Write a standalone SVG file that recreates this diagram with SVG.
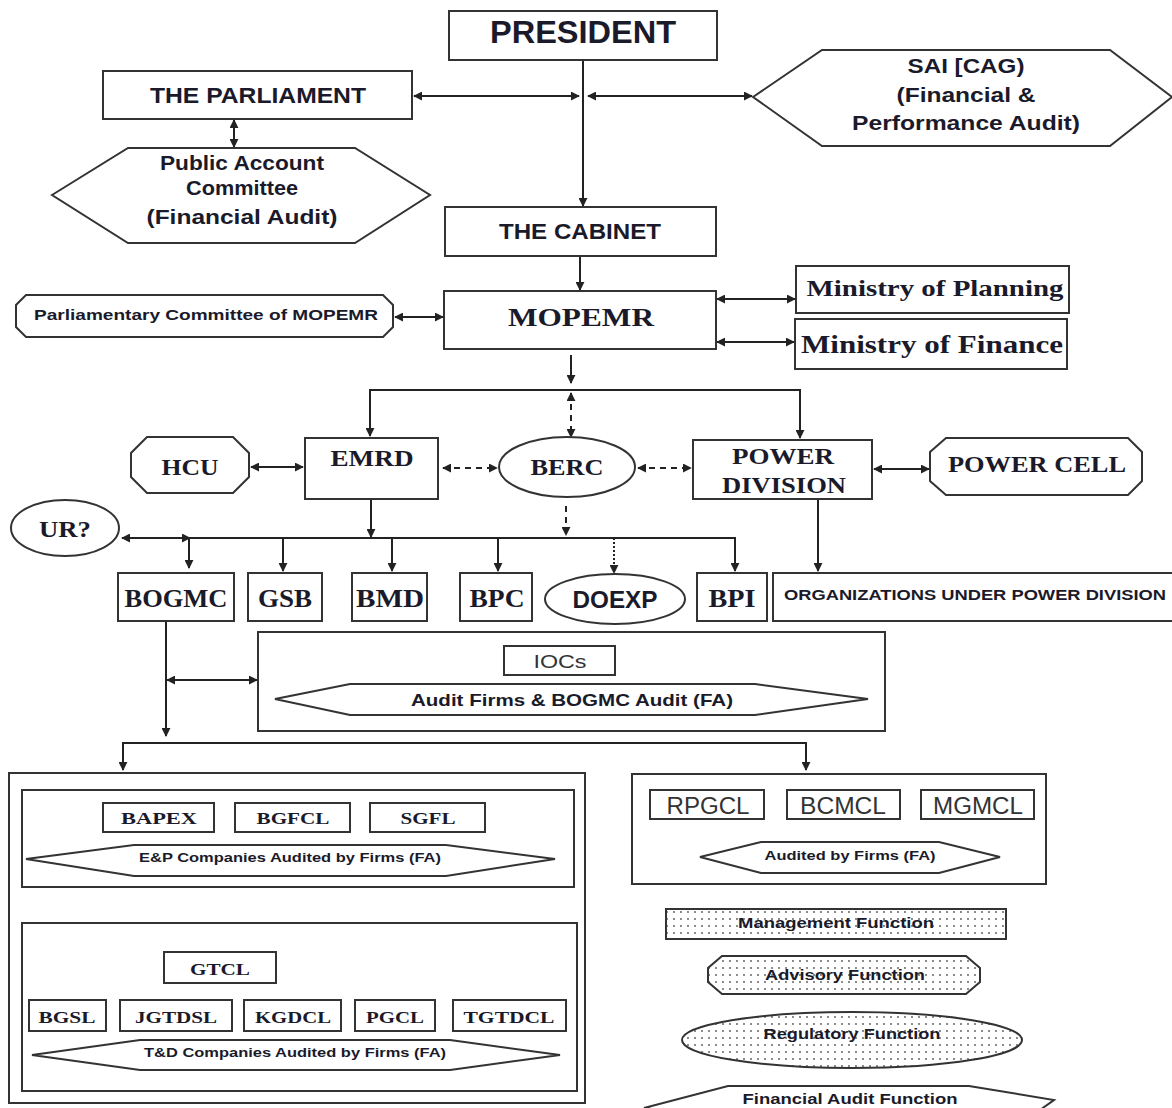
<svg xmlns="http://www.w3.org/2000/svg" width="1172" height="1108" viewBox="0 0 1172 1108">
<defs>
<marker id="ah" viewBox="0 0 10 10" refX="9" refY="5" markerWidth="9" markerHeight="9" markerUnits="userSpaceOnUse" orient="auto-start-reverse">
<path d="M0,0 L10,5 L0,10 z" fill="#222"/>
</marker>
<pattern id="dots" width="7" height="7" patternUnits="userSpaceOnUse">
<rect width="7" height="7" fill="#fff"/>
<circle cx="2" cy="2" r="0.9" fill="#555"/>
</pattern>
<style>
.b{fill:#fff;stroke:#333;stroke-width:2}
.c{fill:none;stroke:#222;stroke-width:2}
.d{stroke-dasharray:6,5}
.dt{stroke-dasharray:2,2}
.s{font-family:"Liberation Sans",Arial,sans-serif;font-weight:bold;fill:#1a1a2a;text-anchor:middle}
.sr{font-family:"Liberation Sans",Arial,sans-serif;fill:#333;text-anchor:middle}
.f{font-family:"Liberation Serif","Times New Roman",serif;font-weight:bold;fill:#1a1a2a;text-anchor:middle}
.p{fill:url(#dots);stroke:#333;stroke-width:2}
</style>
</defs>
<rect width="1172" height="1108" fill="#fff"/>

<g id="connectors">
<line class="c" x1="583" y1="60" x2="583" y2="206" marker-end="url(#ah)"/>
<line class="c" x1="414" y1="96" x2="579" y2="96" marker-start="url(#ah)" marker-end="url(#ah)"/>
<line class="c" x1="588" y1="96" x2="752" y2="96" marker-start="url(#ah)" marker-end="url(#ah)"/>
<line class="c" x1="234" y1="120" x2="234" y2="147" marker-start="url(#ah)" marker-end="url(#ah)"/>
<line class="c" x1="580" y1="256" x2="580" y2="290" marker-end="url(#ah)"/>
<line class="c" x1="395" y1="317" x2="443" y2="317" marker-start="url(#ah)" marker-end="url(#ah)"/>
<line class="c" x1="717" y1="299" x2="795" y2="299" marker-start="url(#ah)" marker-end="url(#ah)"/>
<line class="c" x1="717" y1="342" x2="794" y2="342" marker-start="url(#ah)" marker-end="url(#ah)"/>
<line class="c" x1="571" y1="355" x2="571" y2="383" marker-end="url(#ah)"/>
<line class="c" x1="369" y1="390" x2="801" y2="390"/>
<line class="c" x1="370" y1="390" x2="370" y2="436" marker-end="url(#ah)"/>
<line class="c" x1="800" y1="390" x2="800" y2="438" marker-end="url(#ah)"/>
<line class="c d" x1="571" y1="393" x2="571" y2="437" marker-start="url(#ah)" marker-end="url(#ah)"/>
<line class="c" x1="251" y1="467" x2="303" y2="467" marker-start="url(#ah)" marker-end="url(#ah)"/>
<line class="c d" x1="443" y1="468" x2="497" y2="468" marker-start="url(#ah)" marker-end="url(#ah)"/>
<line class="c d" x1="638" y1="468" x2="691" y2="468" marker-start="url(#ah)" marker-end="url(#ah)"/>
<line class="c" x1="874" y1="469" x2="929" y2="469" marker-start="url(#ah)" marker-end="url(#ah)"/>
<line class="c" x1="371" y1="499" x2="371" y2="537" marker-end="url(#ah)"/>
<line class="c d" x1="566" y1="506" x2="566" y2="535" marker-end="url(#ah)"/>
<line class="c" x1="189" y1="538" x2="736" y2="538"/>
<line class="c" x1="122" y1="538" x2="190" y2="538" marker-start="url(#ah)" marker-end="url(#ah)"/>
<line class="c" x1="189" y1="538" x2="189" y2="568" marker-end="url(#ah)"/>
<line class="c" x1="283" y1="538" x2="283" y2="571" marker-end="url(#ah)" stroke="#666"/>
<line class="c" x1="392" y1="538" x2="392" y2="571" marker-end="url(#ah)"/>
<line class="c" x1="498" y1="538" x2="498" y2="571" marker-end="url(#ah)" stroke="#666"/>
<line class="c dt" x1="614" y1="538" x2="614" y2="573" marker-end="url(#ah)"/>
<line class="c" x1="735" y1="538" x2="735" y2="571" marker-end="url(#ah)"/>
<line class="c" x1="818" y1="499" x2="818" y2="571" marker-end="url(#ah)"/>
<line class="c" x1="166" y1="621" x2="166" y2="736" marker-end="url(#ah)"/>
<line class="c" x1="167" y1="680" x2="257" y2="680" marker-start="url(#ah)" marker-end="url(#ah)"/>
<line class="c" x1="122" y1="743" x2="807" y2="743"/>
<line class="c" x1="123" y1="743" x2="123" y2="770" marker-end="url(#ah)"/>
<line class="c" x1="806" y1="743" x2="806" y2="770" marker-end="url(#ah)"/>
</g>

<g id="president"><rect class="b" x="449" y="11" width="268" height="49"/><text class="s" x="583" y="43" font-size="31" textLength="186" lengthAdjust="spacingAndGlyphs">PRESIDENT</text></g>
<g id="parliament"><rect class="b" x="103" y="71" width="309" height="48"/><text class="s" x="258" y="103" font-size="22" textLength="216" lengthAdjust="spacingAndGlyphs">THE PARLIAMENT</text></g>
<g id="sai"><polygon class="b" points="753,97 822,50 1110,50 1172,97 1110,146 822,146"/>
<text class="s" x="966" y="73" font-size="20" textLength="117" lengthAdjust="spacingAndGlyphs">SAI [CAG)</text>
<text class="s" x="966" y="102" font-size="20" textLength="139" lengthAdjust="spacingAndGlyphs">(Financial &amp;</text>
<text class="s" x="966" y="130" font-size="20" textLength="228" lengthAdjust="spacingAndGlyphs">Performance Audit)</text></g>
<g id="pac"><polygon class="b" points="52,195 128,148 355,148 430,195 355,243 128,243"/>
<text class="s" x="242" y="170" font-size="20" textLength="164" lengthAdjust="spacingAndGlyphs">Public Account</text>
<text class="s" x="242" y="195" font-size="20" textLength="112" lengthAdjust="spacingAndGlyphs">Committee</text>
<text class="s" x="242" y="224" font-size="20" textLength="191" lengthAdjust="spacingAndGlyphs">(Financial Audit)</text></g>
<g id="cabinet"><rect class="b" x="445" y="207" width="271" height="49"/><text class="s" x="580" y="239" font-size="22" textLength="162" lengthAdjust="spacingAndGlyphs">THE CABINET</text></g>
<g id="mopemr"><rect class="b" x="444" y="291" width="272" height="58"/><text class="f" x="581" y="326" font-size="26" textLength="146" lengthAdjust="spacingAndGlyphs">MOPEMR</text></g>
<g id="pcm"><polygon class="b" points="26,295 383,295 393,305 393,327 383,337 26,337 16,327 16,305"/><text class="s" x="206" y="320" font-size="15" textLength="344" lengthAdjust="spacingAndGlyphs">Parliamentary Committee of MOPEMR</text></g>
<g id="planning"><rect class="b" x="796" y="266" width="273" height="47"/><text class="f" x="935" y="296" font-size="24" textLength="257" lengthAdjust="spacingAndGlyphs">Ministry of Planning</text></g>
<g id="finance"><rect class="b" x="795" y="319" width="272" height="50"/><text class="f" x="932" y="353" font-size="25" textLength="262" lengthAdjust="spacingAndGlyphs">Ministry of Finance</text></g>
<g id="hcu"><polygon class="b" points="147,437 233,437 249,453 249,477 233,493 147,493 131,477 131,453"/><text class="f" x="190" y="475" font-size="24" textLength="57" lengthAdjust="spacingAndGlyphs">HCU</text></g>
<g id="emrd"><rect class="b" x="305" y="438" width="133" height="61"/><text class="f" x="372" y="466" font-size="24" textLength="83" lengthAdjust="spacingAndGlyphs">EMRD</text></g>
<g id="berc"><ellipse class="b" cx="567" cy="467" rx="68" ry="30"/><text class="f" x="567" y="475" font-size="24" textLength="73" lengthAdjust="spacingAndGlyphs">BERC</text></g>
<g id="power"><rect class="b" x="693" y="440" width="179" height="59"/><text class="f" x="783" y="464" font-size="24" textLength="102" lengthAdjust="spacingAndGlyphs">POWER</text><text class="f" x="784" y="493" font-size="24" textLength="124" lengthAdjust="spacingAndGlyphs">DIVISION</text></g>
<g id="powercell"><polygon class="b" points="946,438 1128,438 1142,452 1142,481 1128,495 946,495 930,481 930,452"/><text class="f" x="1037" y="472" font-size="24" textLength="178" lengthAdjust="spacingAndGlyphs">POWER CELL</text></g>
<g id="ur"><ellipse class="b" cx="65" cy="528" rx="54" ry="28"/><text class="f" x="65" y="537" font-size="24" textLength="52" lengthAdjust="spacingAndGlyphs">UR?</text></g>
<g id="bogmc"><rect class="b" x="118" y="573" width="116" height="48"/><text class="f" x="176" y="607" font-size="25" textLength="103" lengthAdjust="spacingAndGlyphs">BOGMC</text></g>
<g id="gsb"><rect class="b" x="248" y="573" width="74" height="48"/><text class="f" x="285" y="607" font-size="25" textLength="54" lengthAdjust="spacingAndGlyphs">GSB</text></g>
<g id="bmd"><rect class="b" x="352" y="573" width="75" height="48"/><text class="f" x="390" y="607" font-size="25" textLength="68" lengthAdjust="spacingAndGlyphs">BMD</text></g>
<g id="bpc"><rect class="b" x="460" y="573" width="72" height="48"/><text class="f" x="497" y="607" font-size="25" textLength="55" lengthAdjust="spacingAndGlyphs">BPC</text></g>
<g id="doexp"><ellipse class="b" cx="615" cy="599" rx="70" ry="25"/><text class="s" x="615" y="608" font-size="23" textLength="85" lengthAdjust="spacingAndGlyphs">DOEXP</text></g>
<g id="bpi"><rect class="b" x="697" y="573" width="70" height="48"/><text class="f" x="732" y="607" font-size="25" textLength="47" lengthAdjust="spacingAndGlyphs">BPI</text></g>
<g id="orgs"><rect class="b" x="773" y="573" width="405" height="48"/><text class="s" x="975" y="600" font-size="14" textLength="382" lengthAdjust="spacingAndGlyphs">ORGANIZATIONS UNDER POWER DIVISION</text></g>

<g id="iocs-group"><rect class="b" x="258" y="632" width="627" height="99"/>
<rect class="b" x="504" y="646" width="111" height="29"/><text class="sr" x="560" y="668" font-size="19" textLength="53" lengthAdjust="spacingAndGlyphs">IOCs</text>
<polygon class="b" points="275,699 350,684 755,684 868,699 755,715 350,715"/><text class="s" x="572" y="706" font-size="17" textLength="322" lengthAdjust="spacingAndGlyphs">Audit Firms &amp; BOGMC Audit (FA)</text></g>

<g id="gas-group"><rect class="b" x="9" y="773" width="576" height="330"/>
<rect class="b" x="22" y="790" width="552" height="97"/>
<rect class="b" x="103" y="803" width="111" height="29"/><text class="f" x="159" y="824" font-size="17" textLength="76" lengthAdjust="spacingAndGlyphs">BAPEX</text>
<rect class="b" x="235" y="803" width="115" height="29"/><text class="f" x="293" y="824" font-size="17" textLength="73" lengthAdjust="spacingAndGlyphs">BGFCL</text>
<rect class="b" x="370" y="803" width="115" height="29"/><text class="f" x="428" y="824" font-size="17" textLength="55" lengthAdjust="spacingAndGlyphs">SGFL</text>
<polygon class="b" points="26,859 134,845 446,845 555,859 446,876 134,876"/><text class="s" x="290" y="862" font-size="13" textLength="302" lengthAdjust="spacingAndGlyphs">E&amp;P Companies Audited by Firms (FA)</text>
<rect class="b" x="22" y="923" width="555" height="168"/>
<rect class="b" x="164" y="952" width="112" height="31"/><text class="f" x="220" y="975" font-size="17" textLength="60" lengthAdjust="spacingAndGlyphs">GTCL</text>
<rect class="b" x="29" y="1000" width="77" height="31"/><text class="f" x="67" y="1023" font-size="17" textLength="57" lengthAdjust="spacingAndGlyphs">BGSL</text>
<rect class="b" x="120" y="1000" width="112" height="31"/><text class="f" x="176" y="1023" font-size="17" textLength="82" lengthAdjust="spacingAndGlyphs">JGTDSL</text>
<rect class="b" x="244" y="1000" width="97" height="31"/><text class="f" x="293" y="1023" font-size="17" textLength="76" lengthAdjust="spacingAndGlyphs">KGDCL</text>
<rect class="b" x="355" y="1000" width="80" height="31"/><text class="f" x="395" y="1023" font-size="17" textLength="58" lengthAdjust="spacingAndGlyphs">PGCL</text>
<rect class="b" x="453" y="1000" width="113" height="31"/><text class="f" x="509" y="1023" font-size="17" textLength="91" lengthAdjust="spacingAndGlyphs">TGTDCL</text>
<polygon class="b" points="32,1055 140,1040 450,1040 560,1055 450,1070 140,1070"/><text class="s" x="295" y="1057" font-size="13" textLength="302" lengthAdjust="spacingAndGlyphs">T&amp;D Companies Audited by Firms (FA)</text></g>

<g id="coal-group"><rect class="b" x="632" y="774" width="414" height="110"/>
<rect class="b" x="650" y="790" width="114" height="29"/><text class="sr" x="708" y="814" font-size="23" textLength="83" lengthAdjust="spacingAndGlyphs">RPGCL</text>
<rect class="b" x="787" y="790" width="113" height="29"/><text class="sr" x="843" y="814" font-size="23" textLength="86" lengthAdjust="spacingAndGlyphs">BCMCL</text>
<rect class="b" x="921" y="790" width="113" height="29"/><text class="sr" x="978" y="814" font-size="23" textLength="90" lengthAdjust="spacingAndGlyphs">MGMCL</text>
<polygon class="b" points="700,857 761,842 939,842 1000,857 939,873 761,873"/><text class="s" x="850" y="860" font-size="13" textLength="171" lengthAdjust="spacingAndGlyphs">Audited by Firms (FA)</text></g>

<g id="legend-management"><rect class="p" x="666" y="909" width="340" height="30"/><text class="s" x="836" y="928" font-size="14" textLength="196" lengthAdjust="spacingAndGlyphs">Management Function</text></g>
<g id="legend-advisory"><polygon class="p" points="722,956 966,956 980,968 980,982 966,994 722,994 708,982 708,968"/><text class="s" x="845" y="980" font-size="14" textLength="160" lengthAdjust="spacingAndGlyphs">Advisory Function</text></g>
<g id="legend-regulatory"><ellipse class="p" cx="852" cy="1040" rx="170" ry="28"/><text class="s" x="852" y="1039" font-size="14" textLength="177" lengthAdjust="spacingAndGlyphs">Regulatory Function</text></g>
<g id="legend-financial"><polygon class="b" points="644,1108 728,1086 969,1086 1054,1100 1040,1110 660,1110"/><text class="s" x="850" y="1104" font-size="15" textLength="215" lengthAdjust="spacingAndGlyphs">Financial Audit Function</text></g>
</svg>
